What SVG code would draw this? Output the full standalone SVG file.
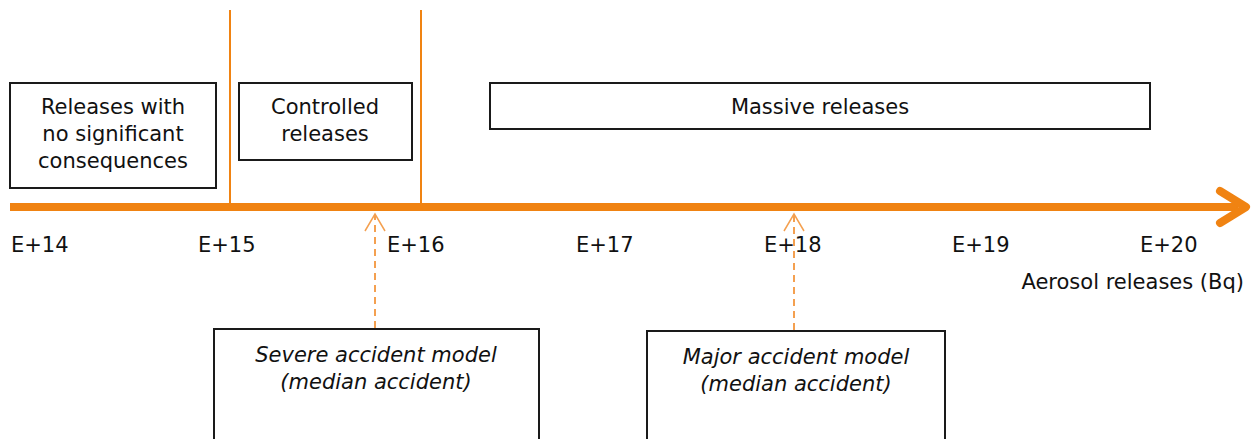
<svg xmlns="http://www.w3.org/2000/svg" width="1259" height="439" viewBox="0 0 1259 439">
  <style>
    .box { fill: #ffffff; stroke: #1a1a1a; stroke-width: 2; }
    .lbl { font-family: "DejaVu Sans", "Liberation Sans", sans-serif; font-size: 21px; fill: #111111; }
    .it { font-style: italic; }
    .mid { text-anchor: middle; }
    .sep { stroke: #F08312; stroke-width: 2; fill: none; }
    .dash { stroke: #F4A050; stroke-width: 2; stroke-dasharray: 7 5; fill: none; }
    .tip { stroke: #F4A050; stroke-width: 1.5; fill: none; }
  </style>
  <rect width="1259" height="439" fill="#ffffff"/>

  <!-- range separators -->
  <g id="separators">
    <line class="sep" x1="230" y1="10" x2="230" y2="207"/>
    <line class="sep" x1="421" y1="10" x2="421" y2="207"/>
  </g>

  <g id="node-no-consequences">
    <rect class="box" x="10" y="83" width="206" height="105"/>
    <text class="lbl mid" x="113" y="114">Releases with</text>
    <text class="lbl mid" x="113" y="141">no significant</text>
    <text class="lbl mid" x="113" y="168">consequences</text>
  </g>

  <g id="node-controlled">
    <rect class="box" x="239" y="83" width="173" height="77"/>
    <text class="lbl mid" x="325" y="114">Controlled</text>
    <text class="lbl mid" x="325" y="141">releases</text>
  </g>

  <g id="node-massive">
    <rect class="box" x="490" y="83" width="660" height="46"/>
    <text class="lbl mid" x="820" y="114">Massive releases</text>
  </g>

  <!-- release axis -->
  <g id="axis">
    <line x1="10" y1="207" x2="1238" y2="207" stroke="#F08312" stroke-width="8"/>
    <polyline points="1220,191 1246,207 1220,223" fill="none" stroke="#F08312" stroke-width="8" stroke-linecap="round" stroke-linejoin="round"/>
    <text class="lbl" x="11" y="252">E+14</text>
    <text class="lbl" x="198" y="252">E+15</text>
    <text class="lbl" x="387" y="252">E+16</text>
    <text class="lbl" x="576" y="252">E+17</text>
    <text class="lbl" x="764" y="252">E+18</text>
    <text class="lbl" x="952" y="252">E+19</text>
    <text class="lbl" x="1140" y="252">E+20</text>
    <text class="lbl" x="1244" y="289" text-anchor="end">Aerosol releases (Bq)</text>
  </g>

  <g id="node-severe">
    <rect class="box" x="214" y="329" width="325" height="120"/>
    <text class="lbl it mid" x="376" y="362">Severe accident model</text>
    <text class="lbl it mid" x="376" y="389">(median accident)</text>
  </g>

  <g id="node-major">
    <rect class="box" x="647" y="331" width="298" height="120"/>
    <text class="lbl it mid" x="796" y="364">Major accident model</text>
    <text class="lbl it mid" x="796" y="391">(median accident)</text>
  </g>

  <!-- model-to-axis connectors -->
  <g id="connectors">
    <line class="dash" x1="375" y1="328" x2="375" y2="215"/>
    <polyline class="tip" points="365,231 375,214 385,231"/>
    <line class="dash" x1="794" y1="330" x2="794" y2="215"/>
    <polyline class="tip" points="784,231 794,214 804,231"/>
  </g>
</svg>
